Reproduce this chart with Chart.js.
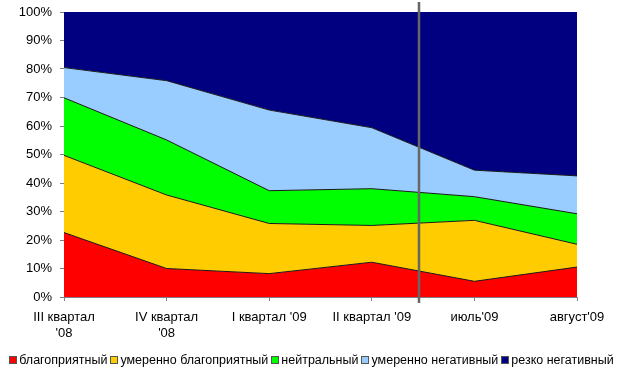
<!DOCTYPE html>
<html><head><meta charset="utf-8">
<script src="https://cdn.jsdelivr.net/npm/chart.js@4/dist/chart.umd.min.js"></script>
<style>
html,body{margin:0;padding:0;background:#fff;}
#wrap{position:relative;width:623px;height:381px;}
#legend{position:absolute;left:0;top:353px;width:623px;display:flex;justify-content:center;font:12.5px "Liberation Sans",Arial,sans-serif;color:#000;white-space:nowrap;}
#legend .it{display:flex;align-items:center;margin:0 1.5px;}
#legend .bx{width:6px;height:6px;border:1px solid #555;margin-right:2px;display:inline-block;}
</style></head>
<body><div id="wrap"><canvas id="c" width="623" height="381"></canvas><div id="legend"></div></div>
<script>
const categories = [["III квартал","'08"],["IV квартал","'08"],"I квартал '09","II квартал '09","июль'09","август'09"];
const seriesNames = ["благоприятный","умеренно благоприятный","нейтральный","умеренно негативный","резко негативный"];
const favorable = [22.6, 10.0, 8.2, 12.2, 5.5, 10.5];
const moderatelyFavorable = [27.1, 25.8, 17.6, 12.9, 21.4, 8.0];
const neutral = [20.2, 19.3, 11.5, 12.9, 8.3, 10.7];
const moderatelyNegative = [10.6, 20.8, 28.3, 21.4, 9.3, 13.3];
const sharplyNegative = [19.5, 24.1, 34.4, 40.6, 55.5, 57.5];
const seriesColors = ["#FF0000","#FFCC00","#00FF00","#99CCFF","#000080"];
const yTicks = [0,10,20,30,40,50,60,70,80,90,100];
const dividerAt = 3.46;

const values = [favorable, moderatelyFavorable, neutral, moderatelyNegative, sharplyNegative];
const datasets = values.map((v,i)=>({
  label: seriesNames[i], data: v,
  backgroundColor: seriesColors[i],
  borderColor: i===4 ? 'rgba(0,0,0,0)' : '#1a1a1a',
  borderWidth: i===4 ? 0 : 1,
  fill: i===0 ? 'origin' : '-1',
  pointRadius: 0, tension: 0
}));

const dividerPlugin = {
  id:'divider',
  afterDatasetsDraw(chart){
    const x = chart.scales.x.getPixelForValue(dividerAt);
    const ctx = chart.ctx; ctx.save();
    ctx.strokeStyle = '#666666'; ctx.lineWidth = 2.5;
    ctx.beginPath(); ctx.moveTo(x, chart.chartArea.top - 10); ctx.lineTo(x, chart.chartArea.bottom + 6); ctx.stroke();
    ctx.restore();
  }
};

const font = {family:'"Liberation Sans", Arial, sans-serif', size:13, lineHeight:1.25};
new Chart(document.getElementById('c'), {
  type:'line',
  data:{labels:categories, datasets},
  options:{
    responsive:false, animation:false,
    layout:{padding:{top:12,right:46,bottom:0,left:0}},
    plugins:{legend:{display:false}, tooltip:{enabled:false}},
    scales:{
      x:{offset:false,
        grid:{drawOnChartArea:false, drawTicks:true, tickLength:4, color:'#808080'},
        border:{color:'#808080'},
        ticks:{font, color:'#000', padding:8, maxRotation:0, autoSkip:false},
        afterFit(s){ s.height = 84; }
      },
      y:{stacked:true, min:0, max:100,
        grid:{drawOnChartArea:false, drawTicks:true, tickLength:4, color:'#808080'},
        border:{color:'#808080'},
        afterBuildTicks(s){ s.ticks = yTicks.map(v=>({value:v})); },
        ticks:{font:{family:font.family,size:13,lineHeight:0.5}, color:'#000', padding:8, callback:v=>v+'%'},
        afterFit(s){ s.width = 64; s.paddingTop = 0; s.paddingBottom = 0; }
      }
    }
  },
  plugins:[dividerPlugin]
});

const lg = document.getElementById('legend');
seriesNames.forEach((n,i)=>{
  const it = document.createElement('span'); it.className='it';
  const b = document.createElement('span'); b.className='bx'; b.style.background=seriesColors[i];
  it.appendChild(b); it.appendChild(document.createTextNode(n)); lg.appendChild(it);
});
</script></body></html>
